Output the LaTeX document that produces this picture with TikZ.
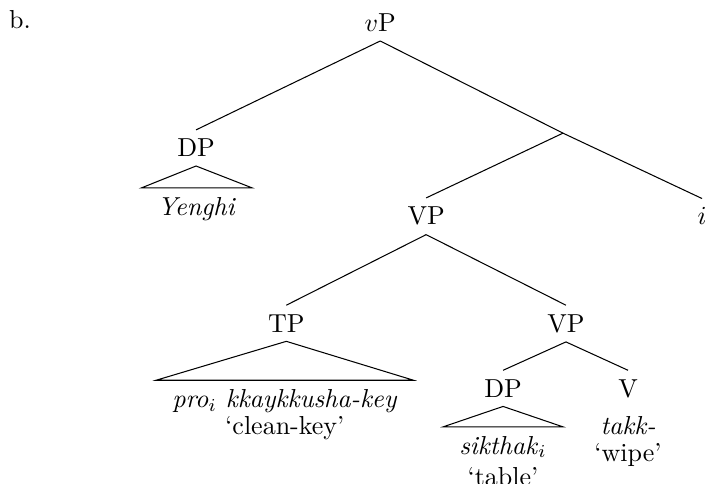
\documentclass[tikz,border=0pt]{standalone}
\usepackage{amsmath}
\usepackage{tikz}
\usetikzlibrary{positioning}

\begin{document}
\begin{tikzpicture}[lab/.style={anchor=base},
  roofleaf/.style={anchor=north,inner xsep=6pt,align=center}]
\useasboundingbox (0,0) rectangle (9.53,6.53);
\node (ex) at (0.27,6.26) {b.};
\node (vP) [lab] at (5.14,6.10) {$v$P};
\node (dp) [lab] at (2.65,4.41) {DP};
\coordinate (vbar) at (7.61,4.73);
\node (vp) [lab] at (5.76,3.49) {VP};
\node (i) [lab] at (9.49,3.49) {$i$};
\node (tp) [lab] at (3.87,2.04) {TP};
\node (vp2) [lab] at (7.65,2.04) {VP};
\node (dp2) [lab] at (6.80,1.16) {DP};
\node (v) [lab] at (8.49,1.16) {V};
\node (yenghi) [roofleaf] at (2.66,3.99) {\textit{Yenghi}};
\node (pro) [roofleaf] at (3.85,1.39) {\textit{pro}$_i$ \textit{kkaykkusha-key}\\[-1.5pt] `clean-key'};
\node (table) [roofleaf] at (6.80,0.76) {\textit{sikthak}$_i$\\ `table'};
\node (takk) [below=0pt of v,align=center] {\textit{takk-}\\[-1.5pt] `wipe'};
\draw (vP.south) -- (dp.north);
\draw (vP.south) -- (vbar);
\draw (vbar) -- (vp.north);
\draw (vbar) -- (i.north);
\draw (vp.south) -- (tp.north);
\draw (vp.south) -- (vp2.north);
\draw (vp2.south) -- (dp2.north);
\draw (vp2.south) -- (v.north);
% roofs
\draw (dp.south) -- (yenghi.north west) -- (yenghi.north east) -- cycle;
\draw (tp.south) -- (pro.north west) -- (pro.north east) -- cycle;
\draw (dp2.south) -- (table.north west) -- (table.north east) -- cycle;
\end{tikzpicture}
\end{document}
